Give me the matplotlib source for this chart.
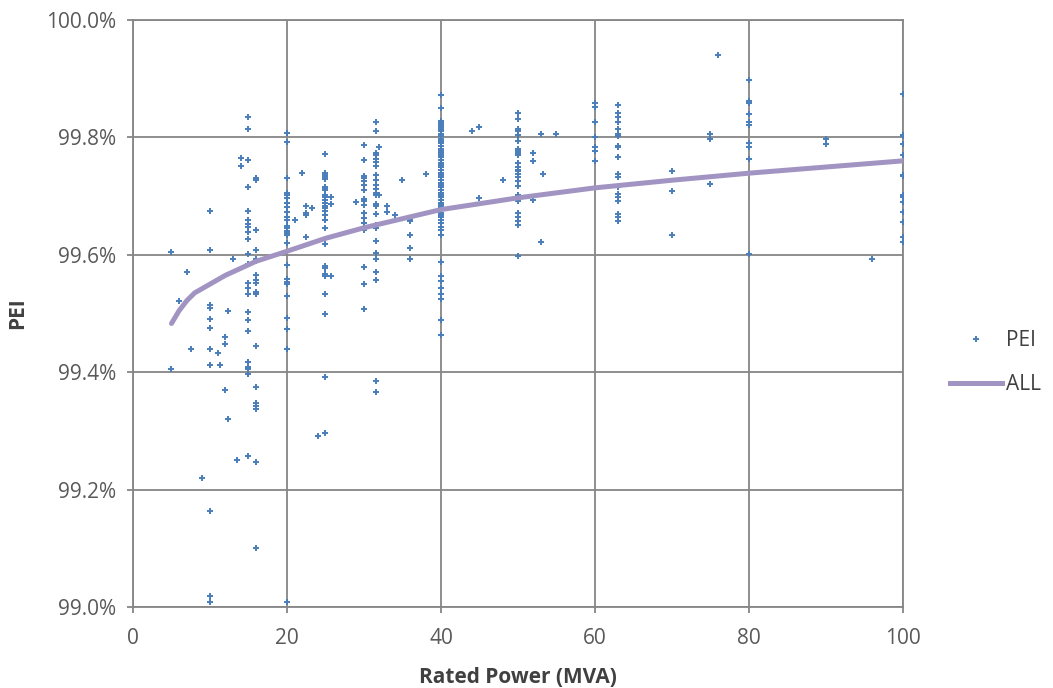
import matplotlib.pyplot as plt
from matplotlib.ticker import PercentFormatter, MultipleLocator
from matplotlib.lines import Line2D

# PEI (%) per rated power column
pei_10 = [99.675, 99.608, 99.514, 99.510, 99.490, 99.475, 99.440, 99.413, 99.164, 99.018, 99.009]
pei_15 = [99.834, 99.815, 99.761, 99.715, 99.675, 99.659, 99.652, 99.648, 99.639, 99.627, 99.601,
          99.585, 99.552, 99.543, 99.533, 99.503, 99.489, 99.471, 99.418, 99.409, 99.405, 99.397, 99.257]
pei_16 = [99.730, 99.727, 99.642, 99.608, 99.592, 99.589, 99.566, 99.557, 99.552, 99.537, 99.534,
          99.445, 99.374, 99.347, 99.342, 99.338, 99.247, 99.100]
pei_20 = [99.807, 99.792, 99.730, 99.706, 99.702, 99.696, 99.689, 99.681, 99.673, 99.665, 99.659,
          99.649, 99.645, 99.641, 99.637, 99.634, 99.620, 99.583, 99.558, 99.554, 99.551, 99.530,
          99.492, 99.473, 99.439, 99.009]
pei_25 = [99.771, 99.740, 99.736, 99.733, 99.729, 99.716, 99.714, 99.710, 99.702, 99.698, 99.693,
          99.688, 99.683, 99.679, 99.675, 99.668, 99.659, 99.646, 99.618, 99.581, 99.577, 99.567,
          99.564, 99.533, 99.499, 99.392, 99.297]
pei_30 = [99.787, 99.762, 99.734, 99.730, 99.725, 99.719, 99.710, 99.695, 99.691, 99.685, 99.671,
          99.662, 99.654, 99.648, 99.643, 99.580, 99.551, 99.507]
pei_31_5 = [99.827, 99.811, 99.774, 99.770, 99.764, 99.758, 99.751, 99.736, 99.727, 99.719, 99.712,
            99.705, 99.702, 99.687, 99.683, 99.669, 99.651, 99.645, 99.624, 99.603, 99.592, 99.570,
            99.557, 99.385, 99.366]
pei_40 = [99.872, 99.850, 99.828, 99.825, 99.821, 99.818, 99.814, 99.810, 99.806, 99.802, 99.798,
          99.794, 99.790, 99.785, 99.781, 99.777, 99.774, 99.770, 99.766, 99.761, 99.757, 99.753,
          99.749, 99.744, 99.740, 99.736, 99.732, 99.727, 99.723, 99.719, 99.715, 99.710, 99.706,
          99.702, 99.698, 99.693, 99.689, 99.685, 99.681, 99.677, 99.672, 99.668, 99.664, 99.659,
          99.654, 99.648, 99.642, 99.634, 99.587, 99.564, 99.555, 99.543, 99.534, 99.524, 99.489, 99.463]
pei_50 = [99.842, 99.831, 99.815, 99.810, 99.804, 99.793, 99.781, 99.777, 99.774, 99.770, 99.756,
          99.750, 99.744, 99.742, 99.738, 99.732, 99.725, 99.718, 99.702, 99.691, 99.671, 99.664,
          99.657, 99.651, 99.598]
pei_60 = [99.858, 99.851, 99.827, 99.800, 99.784, 99.777, 99.759]
pei_63 = [99.855, 99.842, 99.834, 99.827, 99.815, 99.805, 99.802, 99.785, 99.783, 99.767, 99.766,
          99.737, 99.732, 99.715, 99.704, 99.699, 99.692, 99.669, 99.664, 99.658]
pei_80 = [99.897, 99.862, 99.858, 99.839, 99.827, 99.821, 99.790, 99.784, 99.764, 99.601]
pei_100 = [99.874, 99.804, 99.802, 99.789, 99.770, 99.736, 99.734, 99.702, 99.698, 99.690,
           99.673, 99.655, 99.630, 99.622]

# single scattered units
other_mva = [5, 5, 6, 7, 7.5, 9, 11, 11.3, 12, 12, 12, 12.3, 12.3, 13, 13.5, 14, 14,
             21, 22, 22.5, 22.5, 22.5, 22.5, 23.3, 24, 25.7, 25.7, 25.7, 29, 32, 32, 33, 33,
             34, 35, 36, 36, 36, 36, 36, 38, 44, 45, 45, 48, 52, 52, 52, 53, 53, 53.3, 55,
             70, 70, 70, 75, 75, 75, 76, 90, 90, 96]
other_pei = [99.605, 99.405, 99.521, 99.571, 99.439, 99.219, 99.432, 99.413, 99.460, 99.448,
             99.370, 99.505, 99.320, 99.592, 99.250, 99.765, 99.752,
             99.659, 99.740, 99.683, 99.671, 99.668, 99.631, 99.679, 99.291, 99.699, 99.687,
             99.564, 99.690, 99.784, 99.702, 99.683, 99.673,
             99.667, 99.727, 99.660, 99.658, 99.634, 99.611, 99.592, 99.737, 99.811, 99.818,
             99.696, 99.727, 99.774, 99.759, 99.693, 99.805, 99.621, 99.737, 99.805,
             99.743, 99.708, 99.633, 99.806, 99.797, 99.721, 99.940, 99.797, 99.789, 99.592]

# "ALL" trend line
trend_mva = [5, 6, 7, 8, 10, 12, 15, 16, 20, 25, 30, 40, 50, 60, 70, 80, 100]
trend_pei = [99.483, 99.505, 99.522, 99.535, 99.550, 99.565, 99.583, 99.589, 99.606, 99.628,
             99.646, 99.677, 99.697, 99.714, 99.727, 99.739, 99.760]

columns = [(10, pei_10), (15, pei_15), (16, pei_16), (20, pei_20), (25, pei_25), (30, pei_30),
           (31.5, pei_31_5), (40, pei_40), (50, pei_50), (60, pei_60), (63, pei_63),
           (80, pei_80), (100, pei_100)]
xs = list(other_mva)
ys = list(other_pei)
for rating, vals in columns:
    xs += [rating] * len(vals)
    ys += vals

plt.rcParams['font.family'] = ['Open Sans', 'DejaVu Sans']
grid_col = '#868686'
blue = '#4A7EBB'
lilac = '#A294C2'
fs = 15

fig = plt.figure(figsize=(10.53, 6.88), dpi=100)
ax = fig.add_axes([0.1263, 0.1177, 0.7312, 0.8533])

ax.scatter(xs, ys, marker='+', s=18, color=blue, linewidths=1.4, zorder=3)
ax.plot(trend_mva, trend_pei, color=lilac, linewidth=3.6, solid_capstyle='round', zorder=4)

ax.set_xlim(0, 100)
ax.set_ylim(99.0, 100.0)
ax.xaxis.set_major_locator(MultipleLocator(20))
ax.yaxis.set_major_locator(MultipleLocator(0.2))
ax.yaxis.set_major_formatter(PercentFormatter(xmax=100, decimals=1))
ax.grid(True, color=grid_col, linewidth=1.3)
ax.set_axisbelow(True)
for s in ax.spines.values():
    s.set_color(grid_col)
    s.set_linewidth(1.3)
ax.tick_params(axis='both', colors=grid_col, labelcolor='#595959', labelsize=fs, length=4, width=1.3)
ax.tick_params(axis='x', pad=11)
ax.tick_params(axis='y', pad=8)

ax.set_xlabel('Rated Power (MVA)', fontsize=fs, fontweight='bold', color='#404040', labelpad=13)
ax.set_ylabel('PEI', fontsize=fs, fontweight='bold', color='#404040', labelpad=13)

handles = [Line2D([], [], marker='+', linestyle='none', color=blue, markersize=5, markeredgewidth=1.4),
           Line2D([], [], color=lilac, linewidth=3.6)]
fig.legend(handles, ['PEI', 'ALL'], loc='center left', bbox_to_anchor=(0.884, 0.473),
           frameon=False, fontsize=fs, labelspacing=1.1, handlelength=2.5, handletextpad=0.2,
           labelcolor='#404040')

fig.savefig('out.png', dpi=100)
